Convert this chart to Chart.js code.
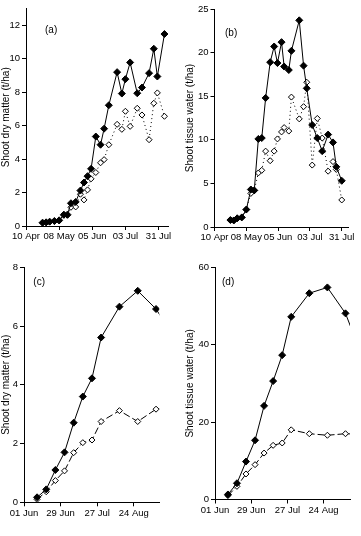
<!DOCTYPE html>
<html>
<head>
<meta charset="utf-8">
<script src="https://cdn.jsdelivr.net/npm/chart.js@4.4.0/dist/chart.umd.min.js"></script>
<style>
    html, body { margin: 0; padding: 0; background: #fff; }
    #wrap { position: relative; width: 361px; height: 536px; }
    canvas { position: absolute; }
</style>
</head>
<body>
<div id="wrap">
    <canvas id="chartA" width="180" height="245" style="left:0;top:0"></canvas>
    <canvas id="chartB" width="181" height="245" style="left:180px;top:0"></canvas>
    <canvas id="chartC" width="180" height="286" style="left:0;top:250px"></canvas>
    <canvas id="chartD" width="181" height="286" style="left:180px;top:250px"></canvas>
</div>
<script>
// days after 10 Apr (a, b) and after 01 Jun (c, d)
const daysA = [14, 17, 20, 24, 28, 32, 35, 38, 42, 46, 49, 52, 55, 59, 63, 66, 70, 77, 81, 84, 88, 94, 98, 104, 108, 111, 117];
const dryFilledA = [0.2, 0.22, 0.26, 0.3, 0.34, 0.68, 0.68, 1.36, 1.44, 2.12, 2.6, 2.98, 3.42, 5.35, 4.86, 5.82, 7.22, 9.2, 7.92, 8.78, 9.78, 7.94, 8.28, 9.14, 10.6, 8.94, 11.48];
const dryOpenA = [0.18, 0.2, 0.24, 0.28, 0.3, 0.64, 0.64, 1.12, 1.14, 1.9, 1.56, 2.16, 2.82, 3.2, 3.78, 3.97, 4.86, 6.08, 5.78, 6.86, 5.96, 7.04, 6.64, 5.16, 7.34, 7.96, 6.56];

const daysB = [14, 17, 20, 24, 28, 32, 35, 38.6, 41.6, 45, 49, 52.5, 55.4, 59, 61.3, 65.4, 67.7, 74.6, 78.4, 81.2, 86, 90.5, 94.8, 100, 104.3, 107.2, 112];
const waterFilledB = [0.8, 0.75, 1.0, 1.1, 2.0, 4.3, 4.2, 10.1, 10.2, 14.8, 18.9, 20.7, 18.8, 21.2, 18.4, 18.0, 20.2, 23.7, 18.5, 15.9, 11.7, 10.2, 8.7, 10.6, 9.7, 6.9, 5.3];
const waterOpenB = [0.8, 0.8, 1.0, 1.1, 2.0, 3.85, 4.2, 6.2, 6.5, 8.7, 7.6, 8.7, 10.1, 10.9, 11.4, 11.0, 14.9, 12.4, 13.8, 16.6, 7.1, 12.45, 10.2, 6.4, 7.5, 6.6, 3.1];

const daysCD = [10, 17, 24, 31, 38, 45, 52, 59, 73, 87, 101, 115];
const dryFilledC = [0.17, 0.44, 1.1, 1.7, 2.71, 3.6, 4.22, 5.61, 6.66, 7.2, 6.58, 5.6];
const dryOpenC = [0.1, 0.36, 0.74, 1.07, 1.69, 2.03, 2.12, 2.75, 3.12, 2.75, 3.17, 3.2];
const waterFilledD = [1.3, 4.2, 9.8, 15.3, 24.2, 30.6, 37.3, 47.2, 53.3, 54.8, 48.1, 36];
const waterOpenD = [1.0, 3.4, 6.6, 9.0, 12.0, 14.0, 14.6, 18.0, 17.0, 16.6, 17.0, 16.8];

const tickDaysAB = [0, 28, 56, 84, 112];
const tickLabelsAB = ['10 Apr', '08 May', '05 Jun', '03 Jul', '31 Jul'];
const tickDaysCD = [0, 28, 56, 84];
const tickLabelsCD = ['01 Jun', '29 Jun', '27 Jul', '24 Aug'];

Chart.defaults.color = '#000';
Chart.defaults.font.family = "'Liberation Sans', Arial, sans-serif";
Chart.defaults.font.size = 9.5;

// panel letter, placed inside the plot area
const panelLabel = {
    id: 'panelLabel',
    afterDraw(chart, args, opts) {
        const { ctx, chartArea } = chart;
        ctx.save();
        ctx.font = "10px 'Liberation Sans', Arial, sans-serif";
        ctx.fillStyle = '#000';
        ctx.textBaseline = 'middle';
        ctx.fillText(opts.text, chartArea.left + opts.dx, chartArea.top + opts.dy);
        ctx.restore();
    }
};

const toPoints = (xs, ys) => xs.map((x, i) => ({ x: x, y: ys[i] }));

function drawPanel(id, p) {
    const axisGrid = { drawOnChartArea: false, drawTicks: true, tickLength: 4, color: '#000', lineWidth: 1 };
    new Chart(document.getElementById(id), {
        type: 'line',
        data: {
            datasets: [
                {
                    data: toPoints(p.days, p.filled),
                    borderColor: '#000',
                    borderWidth: 1,
                    tension: 0,
                    pointStyle: 'rectRot',
                    pointRadius: 3.5,
                    pointBackgroundColor: '#000',
                    pointBorderColor: '#000',
                    pointBorderWidth: 1,
                },
                {
                    data: toPoints(p.days, p.open),
                    borderColor: '#000',
                    borderWidth: 1,
                    borderDash: p.dash,
                    tension: 0,
                    pointStyle: 'rectRot',
                    pointRadius: 3,
                    pointBackgroundColor: '#fff',
                    pointBorderColor: '#000',
                    pointBorderWidth: 1,
                },
            ],
        },
        options: {
            responsive: false,
            animation: false,
            events: [],
            layout: { padding: { left: 0, top: p.top, right: p.right, bottom: 0 } },
            plugins: {
                legend: { display: false },
                tooltip: { enabled: false },
                panelLabel: p.label,
            },
            scales: {
                x: {
                    type: 'linear',
                    min: 0,
                    max: p.xMax,
                    afterBuildTicks: (s) => { s.ticks = p.tickDays.map((v) => ({ value: v })); },
                    afterFit: (s) => { s.height = p.xh; },
                    ticks: {
                        callback: (v, i) => p.tickLabels[i],
                        autoSkip: false,
                        maxRotation: 0,
                        padding: 1,
                    },
                    grid: axisGrid,
                    border: { color: '#000', width: 1 },
                },
                y: {
                    min: 0,
                    max: p.yMax,
                    afterFit: (s) => { s.width = p.yw; },
                    ticks: { stepSize: p.yStep, includeBounds: false, padding: 2 },
                    grid: axisGrid,
                    border: { color: '#000', width: 1 },
                    title: {
                        display: true,
                        text: p.title,
                        font: { size: 10 },
                        padding: { top: p.titlePad, bottom: 0 },
                    },
                },
            },
        },
        plugins: [panelLabel],
    });
}

drawPanel('chartA', {
    days: daysA, filled: dryFilledA, open: dryOpenA, dash: [1, 3],
    tickDays: tickDaysAB, tickLabels: tickLabelsAB, xMax: 120,
    yMax: 13, yStep: 2, title: 'Shoot dry matter (t/ha)',
    top: 8.6, right: 12, yw: 26, xh: 19, titlePad: 0,
    label: { text: '(a)', dx: 19, dy: 21.5 },
});

drawPanel('chartB', {
    days: daysB, filled: waterFilledB, open: waterOpenB, dash: [1, 3],
    tickDays: tickDaysAB, tickLabels: tickLabelsAB, xMax: 117.5,
    yMax: 25, yStep: 5, title: 'Shoot tissue water (t/ha)',
    top: 9, right: 13, yw: 34.5, xh: 18, titlePad: 4,
    label: { text: '(b)', dx: 10.5, dy: 24.5 },
});

drawPanel('chartC', {
    days: daysCD, filled: dryFilledC, open: dryOpenC, dash: [7, 3],
    tickDays: tickDaysCD, tickLabels: tickLabelsCD, xMax: 103.5,
    yMax: 8, yStep: 2, title: 'Shoot dry matter (t/ha)',
    top: 17.3, right: 20.7, yw: 24, xh: 33.7, titlePad: 0,
    label: { text: '(c)', dx: 9.3, dy: 14.7 },
});

drawPanel('chartD', {
    days: daysCD, filled: waterFilledD, open: waterOpenD, dash: [7, 3],
    tickDays: tickDaysCD, tickLabels: tickLabelsCD, xMax: 104.5,
    yMax: 60, yStep: 20, title: 'Shoot tissue water (t/ha)',
    top: 17.3, right: 11, yw: 35, xh: 36.5, titlePad: 4,
    label: { text: '(d)', dx: 7, dy: 14.7 },
});
</script>
</body>
</html>
